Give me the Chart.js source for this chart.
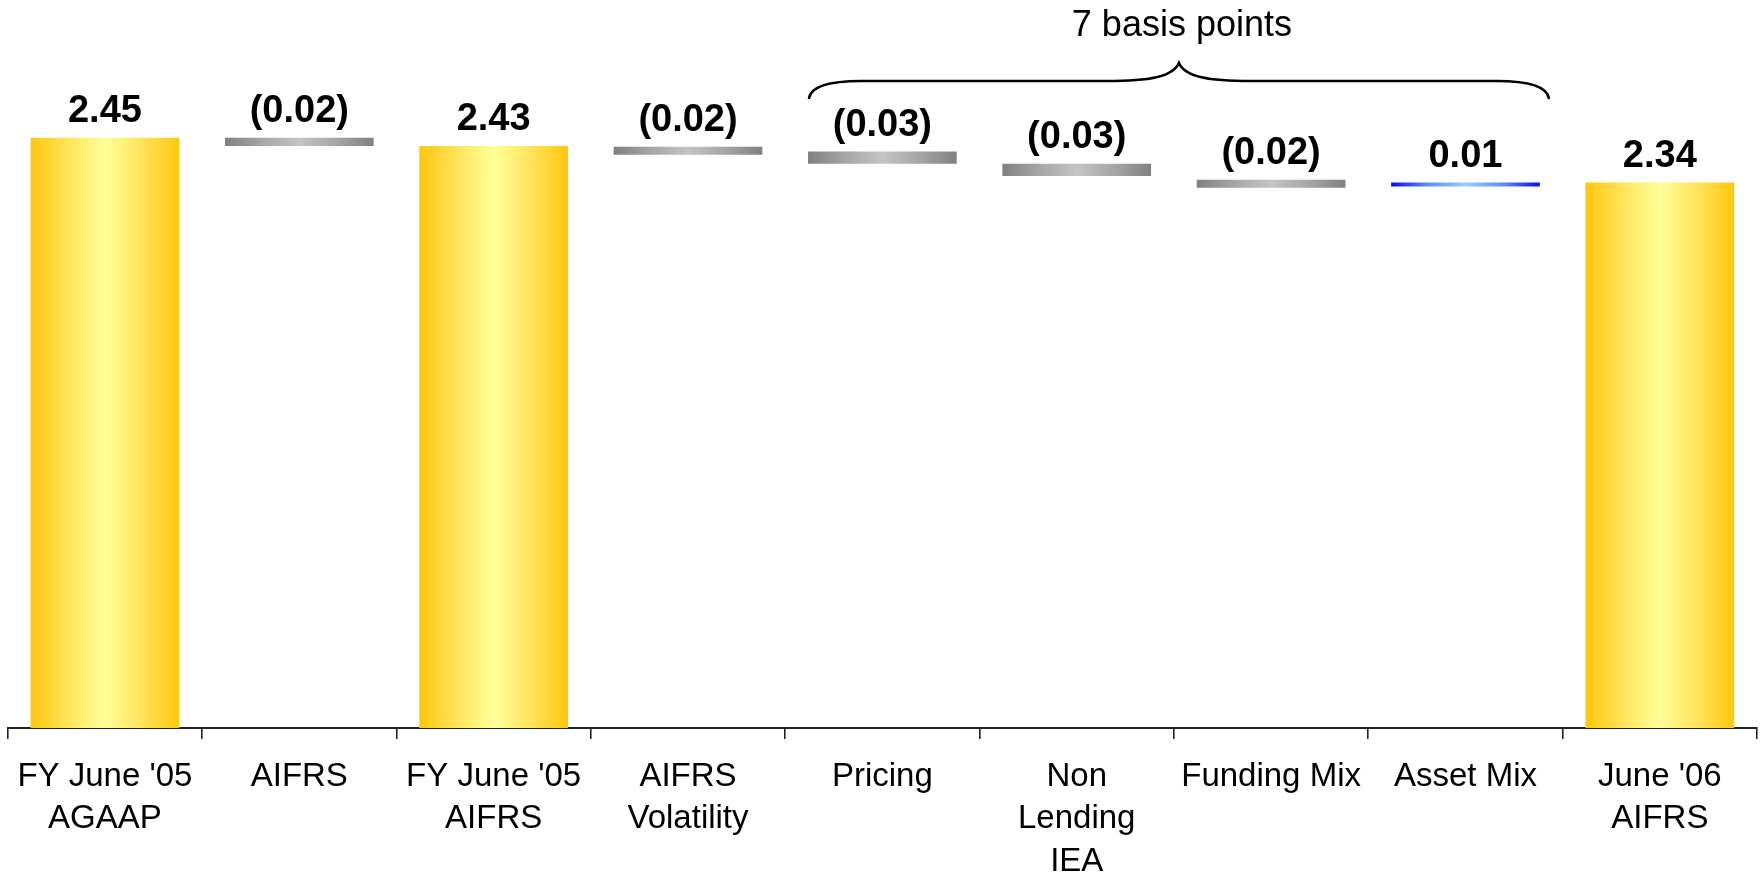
<!DOCTYPE html>
<html>
<head>
<meta charset="utf-8">
<title>Net interest margin walk</title>
<script src="https://cdn.jsdelivr.net/npm/chart.js@4/dist/chart.umd.min.js"></script>
<style>
  html, body { margin: 0; padding: 0; background: #ffffff; }
  #wrap { position: relative; width: 1762px; height: 873px; }
</style>
</head>
<body>
<div id="wrap"><canvas id="walk"></canvas></div>
<script>
// Categories along the x axis (multi-line labels as arrays)
const categories = [
  ["FY June '05", "AGAAP"],
  "AIFRS",
  ["FY June '05", "AIFRS"],
  ["AIFRS", "Volatility"],
  "Pricing",
  ["Non", "Lending", "IEA"],
  "Funding Mix",
  "Asset Mix",
  ["June '06", "AIFRS"]
];

// Margin totals (%), null where the column is a movement
const totals = [2.45, null, 2.43, null, null, null, null, null, 2.34];

// Movements (%), null where the column is a total
const changes = [null, -0.02, null, -0.02, -0.03, -0.03, -0.02, 0.01, null];

// Level each movement hangs from: its top for falls, its base for rises
const changeAnchor = [null, 2.45, null, 2.428, 2.416, 2.386, 2.347, 2.330, null];

// Text of the bracket over the margin drivers
const bracketText = "7 basis points";
const bracketFrom = 4;   // Pricing
const bracketTo = 7;     // Asset Mix

const Y_MIN = 1.0;
const Y_MAX = 2.7;
const BAR_PCT = 0.765;

const FONT = "'Liberation Sans', Arial, Helvetica, sans-serif";

const barData = categories.map((_, i) => {
  if (totals[i] !== null) return [Y_MIN, totals[i]];
  const a = changeAnchor[i], d = changes[i];
  return d < 0 ? [a + d, a] : [a, a + d];
});

const kinds = categories.map((_, i) =>
  totals[i] !== null ? 'total' : (changes[i] < 0 ? 'fall' : 'rise'));

const palette = {
  total: ['#FFC60B', '#FFE45A', '#FFFF99', '#FFE45A', '#FFC60B'],
  fall:  ['#808080', '#A6A6A6', '#C4C4C4', '#A6A6A6', '#808080'],
  rise:  ['#0A0AF5', '#5F8FFA', '#99CCFF', '#5F8FFA', '#0A0AF5']
};

function barFill(ctx) {
  if (ctx.type !== 'data') return '#cccccc';
  const chart = ctx.chart;
  const xs = chart.scales.x;
  const cols = palette[kinds[ctx.dataIndex]];
  if (!xs || !chart.chartArea) return cols[2];
  const cx = xs.getPixelForValue(ctx.dataIndex);
  const half = (xs.width / categories.length) * BAR_PCT / 2;
  const g = chart.ctx.createLinearGradient(cx - half, 0, cx + half, 0);
  g.addColorStop(0, cols[0]);
  g.addColorStop(0.25, cols[1]);
  g.addColorStop(0.5, cols[2]);
  g.addColorStop(0.75, cols[3]);
  g.addColorStop(1, cols[4]);
  return g;
}

function labelFor(i) {
  if (totals[i] !== null) return totals[i].toFixed(2);
  const v = changes[i];
  return v < 0 ? '(' + Math.abs(v).toFixed(2) + ')' : v.toFixed(2);
}

// Value labels above each column and the bracket over the drivers
const annotate = {
  id: 'annotate',
  afterDatasetsDraw(chart) {
    const c = chart.ctx;
    const meta = chart.getDatasetMeta(0);
    c.save();
    c.fillStyle = '#000000';
    c.font = 'bold 38px ' + FONT;
    c.textAlign = 'center';
    c.textBaseline = 'alphabetic';
    meta.data.forEach((el, i) => {
      const top = Math.min(el.y, el.base);
      c.fillText(labelFor(i), el.x, top - 16);
    });

    // Curly bracket
    const a = meta.data[bracketFrom], b = meta.data[bracketTo];
    const left = a.x - a.width / 2 + 1;
    const right = b.x + b.width / 2 + 9;
    const mid = (left + right) / 2;
    const yEnd = 98, yLine = 81, yPeak = 63;
    c.strokeStyle = '#000000';
    c.lineWidth = 2.6;
    c.lineCap = 'round';
    c.beginPath();
    c.moveTo(left, yEnd);
    c.bezierCurveTo(left + 2, yLine + 6, left + 18, yLine, left + 52, yLine);
    c.lineTo(mid - 72, yLine);
    c.bezierCurveTo(mid - 30, yLine, mid - 6, yLine - 4, mid, yPeak);
    c.bezierCurveTo(mid + 6, yLine - 4, mid + 30, yLine, mid + 72, yLine);
    c.lineTo(right - 52, yLine);
    c.bezierCurveTo(right - 18, yLine, right - 2, yLine + 6, right, yEnd);
    c.stroke();

    c.font = '36px ' + FONT;
    c.fillText(bracketText, mid + 3, 36);
    c.restore();
  }
};

new Chart(document.getElementById('walk'), {
  type: 'bar',
  data: {
    labels: categories,
    datasets: [{
      data: barData,
      backgroundColor: barFill,
      borderWidth: 0,
      borderSkipped: false,
      barPercentage: BAR_PCT,
      categoryPercentage: 1.0
    }]
  },
  options: {
    responsive: true,
    maintainAspectRatio: false,
    animation: false,
    layout: { padding: { top: 36, left: 7, right: 5, bottom: 0 } },
    plugins: {
      legend: { display: false },
      tooltip: { enabled: false }
    },
    scales: {
      x: {
        offset: true,
        grid: {
          display: true,
          offset: true,
          drawOnChartArea: false,
          drawTicks: true,
          tickLength: 11,
          color: '#222222',
          lineWidth: 1.6
        },
        border: { display: true, color: '#222222', width: 2 },
        ticks: {
          autoSkip: false,
          maxRotation: 0,
          minRotation: 0,
          padding: 17,
          color: '#000000',
          font: { family: FONT, size: 33, lineHeight: 1.28 }
        },
        afterFit(scale) { scale.height = 145; }
      },
      y: {
        display: false,
        min: Y_MIN,
        max: Y_MAX
      }
    }
  },
  plugins: [annotate]
});
</script>
</body>
</html>
